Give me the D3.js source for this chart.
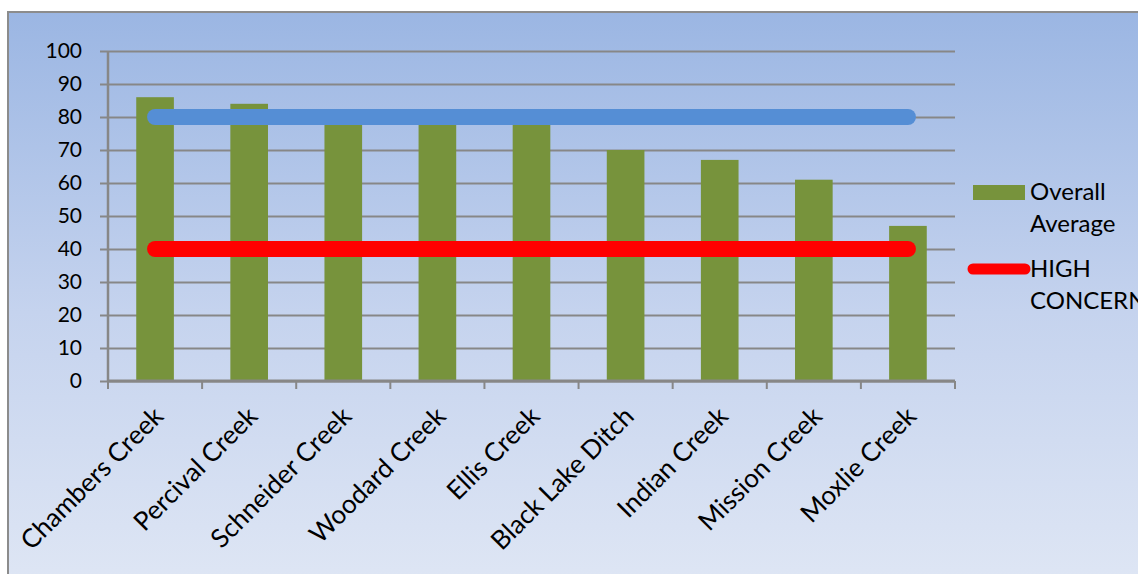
<!DOCTYPE html>
<html>
<head>
<meta charset="utf-8">
<script src="https://cdn.jsdelivr.net/npm/d3@7"></script>
<style>
  html, body { margin: 0; padding: 0; background: #fff; }
  svg { display: block; font-family: Lato, "Open Sans", sans-serif; }
</style>
</head>
<body>
<svg width="1138" height="574"></svg>
<script>
// chart data
const creeks = ["Chambers Creek", "Percival Creek", "Schneider Creek", "Woodard Creek",
  "Ellis Creek", "Black Lake Ditch", "Indian Creek", "Mission Creek", "Moxlie Creek"];
const overallAverage = [86, 84, 79, 78, 79, 70, 67, 61, 47];
const highConcern = [40, 40, 40, 40, 40, 40, 40, 40, 40];
const goodLevel = [80, 80, 80, 80, 80, 80, 80, 80, 80];
const yTicks = [0, 10, 20, 30, 40, 50, 60, 70, 80, 90, 100];
const legendItems = [
  { kind: "bar", lines: ["Overall", "Average"] },
  { kind: "line", lines: ["HIGH", "CONCERN"] }
];

const margin = { top: 51, left: 108 },
  width = 955 - 108,
  height = 381 - 51;

const svg = d3.select("svg");

// background with gradient
const defs = svg.append("defs");
const grad = defs.append("linearGradient")
  .attr("id", "bg").attr("x1", 0).attr("y1", 0).attr("x2", 0).attr("y2", 1);
grad.append("stop").attr("offset", "0%").attr("stop-color", "#9bb6e3");
grad.append("stop").attr("offset", "50%").attr("stop-color", "#c5d3ee");
grad.append("stop").attr("offset", "100%").attr("stop-color", "#e1e8f5");

svg.append("rect")
  .attr("x", 8).attr("y", 12)
  .attr("width", 1160).attr("height", 600)
  .attr("fill", "url(#bg)")
  .attr("stroke", "#8c8c8c")
  .attr("stroke-width", 2);

const g = svg.append("g")
  .attr("transform", "translate(" + margin.left + "," + margin.top + ")");

// scales
const x = d3.scaleBand().domain(creeks).range([0, width]).paddingInner(0.6).paddingOuter(0.3);
const xc = d3.scaleBand().domain(creeks).range([0, width]);
const y = d3.scaleLinear().domain([0, 100]).range([height, 0]);

// gridlines
g.append("g")
  .attr("class", "grid")
  .call(d3.axisLeft(y).tickValues(yTicks).tickSize(-width).tickFormat(""))
  .call(s => s.select(".domain").remove())
  .call(s => s.selectAll("line").attr("stroke", "#878787").attr("stroke-width", 2));

// y axis
g.append("g")
  .call(d3.axisLeft(y).tickValues(yTicks).tickSize(8).tickPadding(18))
  .call(s => s.select(".domain").attr("stroke", "#878787").attr("stroke-width", 2.5)
    .attr("d", "M0,0V" + height))
  .call(s => s.selectAll("line").attr("stroke", "#878787").attr("stroke-width", 2))
  .call(s => s.selectAll("text").attr("font-size", 21).attr("fill", "#000")
    .attr("font-family", "Lato, sans-serif"));

// bars
g.selectAll(".bar")
  .data(overallAverage)
  .join("rect")
  .attr("class", "bar")
  .attr("x", (d, i) => x(creeks[i]))
  .attr("width", x.bandwidth())
  .attr("y", d => y(d))
  .attr("height", d => height - y(d))
  .attr("fill", "#77933c");

// x axis
const xAxis = g.append("g")
  .attr("transform", "translate(0," + height + ")");
xAxis.append("line")
  .attr("x1", 0).attr("x2", width)
  .attr("stroke", "#878787").attr("stroke-width", 3);
xAxis.selectAll(".tick")
  .data(d3.range(creeks.length + 1))
  .join("line")
  .attr("x1", i => i * xc.step()).attr("x2", i => i * xc.step())
  .attr("y1", 0).attr("y2", 8)
  .attr("stroke", "#878787").attr("stroke-width", 2);
xAxis.selectAll(".lbl")
  .data(creeks)
  .join("text")
  .attr("class", "lbl")
  .attr("transform", d => "translate(" + (xc(d) + xc.bandwidth() / 2 - 3) + ",24) rotate(-45)")
  .attr("text-anchor", "end")
  .attr("dy", "0.7em")
  .attr("font-size", 26)
  .text(d => d);

// reference lines
const line = d3.line()
  .x((d, i) => xc(creeks[i]) + xc.bandwidth() / 2)
  .y(d => y(d));

g.append("path")
  .datum(goodLevel)
  .attr("d", line)
  .attr("fill", "none")
  .attr("stroke", "#558ed5")
  .attr("stroke-width", 16)
  .attr("stroke-linecap", "round");

g.append("path")
  .datum(highConcern)
  .attr("d", line)
  .attr("fill", "none")
  .attr("stroke", "#ff0000")
  .attr("stroke-width", 16)
  .attr("stroke-linecap", "round");

// legend
const legend = svg.append("g").attr("transform", "translate(973,0)");
legendItems.forEach((item, i) => {
  const top = 200 + i * 77;
  if (item.kind === "bar") {
    legend.append("rect").attr("x", 0).attr("y", top - 15)
      .attr("width", 52).attr("height", 15).attr("fill", "#77933c");
  } else {
    legend.append("line").attr("x1", 0).attr("x2", 52)
      .attr("y1", top - 8).attr("y2", top - 8)
      .attr("stroke", "#ff0000").attr("stroke-width", 11)
      .attr("stroke-linecap", "round");
  }
  item.lines.forEach((t, j) => {
    legend.append("text")
      .attr("x", 57).attr("y", top + j * 32)
      .attr("font-size", 24)
      .text(t);
  });
});
</script>
</body>
</html>
